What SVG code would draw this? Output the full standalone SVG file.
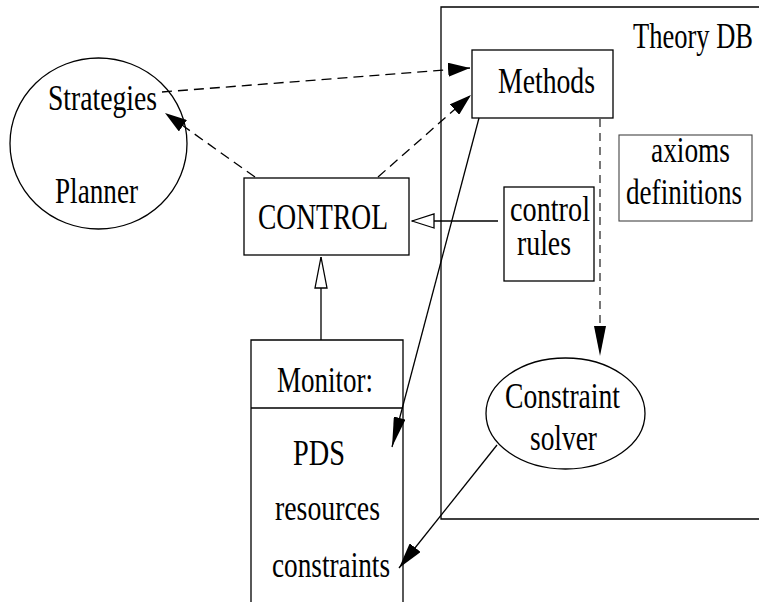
<svg xmlns="http://www.w3.org/2000/svg" width="759" height="602" viewBox="0 0 759 602">
<defs>
<style>
.s{fill:none;stroke:#000;stroke-width:1.3}
.g{fill:none;stroke:#444;stroke-width:1.1}
.d{fill:none;stroke:#000;stroke-width:1.3;stroke-dasharray:10,6}
.dg{fill:none;stroke:#555;stroke-width:1.6;stroke-dasharray:8,6}
text{font-family:"Liberation Serif","Times New Roman",serif;font-size:35px;fill:#000}
</style>
<marker id="a22" markerUnits="userSpaceOnUse" viewBox="0 0 22 14" refX="22" refY="7" markerWidth="22" markerHeight="14" orient="auto"><path d="M0,0 L22,7 L0,14 z" fill="#000"/></marker>
<marker id="a26" markerUnits="userSpaceOnUse" viewBox="0 0 26 14" refX="26" refY="7" markerWidth="26" markerHeight="14" orient="auto"><path d="M0,0 L26,7 L0,14 z" fill="#000"/></marker>
<marker id="a30" markerUnits="userSpaceOnUse" viewBox="0 0 30 12" refX="30" refY="6" markerWidth="30" markerHeight="12" orient="auto"><path d="M0,0 L30,6 L0,12 z" fill="#000"/></marker>
<marker id="h22" markerUnits="userSpaceOnUse" viewBox="-1 -1 24 16" refX="22" refY="7" markerWidth="24" markerHeight="16" orient="auto"><path d="M0,0 L22,7 L0,14 z" fill="#fff" stroke="#000" stroke-width="1.3"/></marker>
<marker id="h31" markerUnits="userSpaceOnUse" viewBox="-1 -1 33 14" refX="31" refY="6" markerWidth="33" markerHeight="14" orient="auto"><path d="M0,0 L31,6 L0,12 z" fill="#fff" stroke="#000" stroke-width="1.3"/></marker>
</defs>

<g id="theorydb">
<path class="s" d="M760,7 H441 V519 H760"/>
<text x="633" y="48" textLength="120" lengthAdjust="spacingAndGlyphs">Theory DB</text>
</g>

<g id="planner">
<ellipse class="s" cx="98.5" cy="143.5" rx="88.5" ry="85.5"/>
<text x="48" y="110" textLength="109" lengthAdjust="spacingAndGlyphs">Strategies</text>
<text x="55" y="203" textLength="83" lengthAdjust="spacingAndGlyphs">Planner</text>
</g>

<g id="methods">
<rect class="s" x="472" y="50" width="141" height="68"/>
<text x="498" y="93" textLength="97" lengthAdjust="spacingAndGlyphs">Methods</text>
</g>

<g id="control">
<rect class="s" x="244" y="178" width="165" height="77"/>
<text x="258" y="229" textLength="130" lengthAdjust="spacingAndGlyphs">CONTROL</text>
</g>

<g id="controlrules">
<rect class="s" x="504" y="187" width="90" height="94"/>
<text x="510" y="221" textLength="80" lengthAdjust="spacingAndGlyphs">control</text>
<text x="517" y="255" textLength="54" lengthAdjust="spacingAndGlyphs">rules</text>
</g>

<g id="axioms">
<rect class="g" x="619" y="135" width="133" height="86"/>
<text x="651" y="162" textLength="79" lengthAdjust="spacingAndGlyphs">axioms</text>
<text x="626" y="204" textLength="116" lengthAdjust="spacingAndGlyphs">definitions</text>
</g>

<g id="solver">
<ellipse class="s" cx="565.5" cy="413.5" rx="79.5" ry="55.5"/>
<text x="505" y="408" textLength="115" lengthAdjust="spacingAndGlyphs">Constraint</text>
<text x="530" y="450" textLength="67" lengthAdjust="spacingAndGlyphs">solver</text>
</g>

<g id="monitor">
<path class="s" d="M251,602 V340 H403 V602 M251,408 H403"/>
<text x="277" y="392" textLength="96" lengthAdjust="spacingAndGlyphs">Monitor:</text>
<text x="293" y="465" textLength="52" lengthAdjust="spacingAndGlyphs">PDS</text>
<text x="275" y="520" textLength="105" lengthAdjust="spacingAndGlyphs">resources</text>
<text x="272" y="577" textLength="118" lengthAdjust="spacingAndGlyphs">constraints</text>
</g>

<g id="connectors">
<line class="d" x1="162" y1="92" x2="470" y2="68" marker-end="url(#a22)"/>
<line class="d" x1="378" y1="177" x2="471" y2="95" marker-end="url(#a22)"/>
<line class="d" x1="255" y1="177" x2="165" y2="113" marker-end="url(#a22)"/>
<line class="dg" x1="600" y1="119" x2="600" y2="356" marker-end="url(#a30)"/>
<line class="s" x1="479" y1="118" x2="392" y2="447" marker-end="url(#a30)"/>
<line class="s" x1="497" y1="445" x2="399" y2="568" marker-end="url(#a26)"/>
<line class="s" x1="498" y1="221" x2="412" y2="221" marker-end="url(#h22)"/>
<line class="s" x1="321" y1="340" x2="321" y2="257" marker-end="url(#h31)"/>
</g>
</svg>
